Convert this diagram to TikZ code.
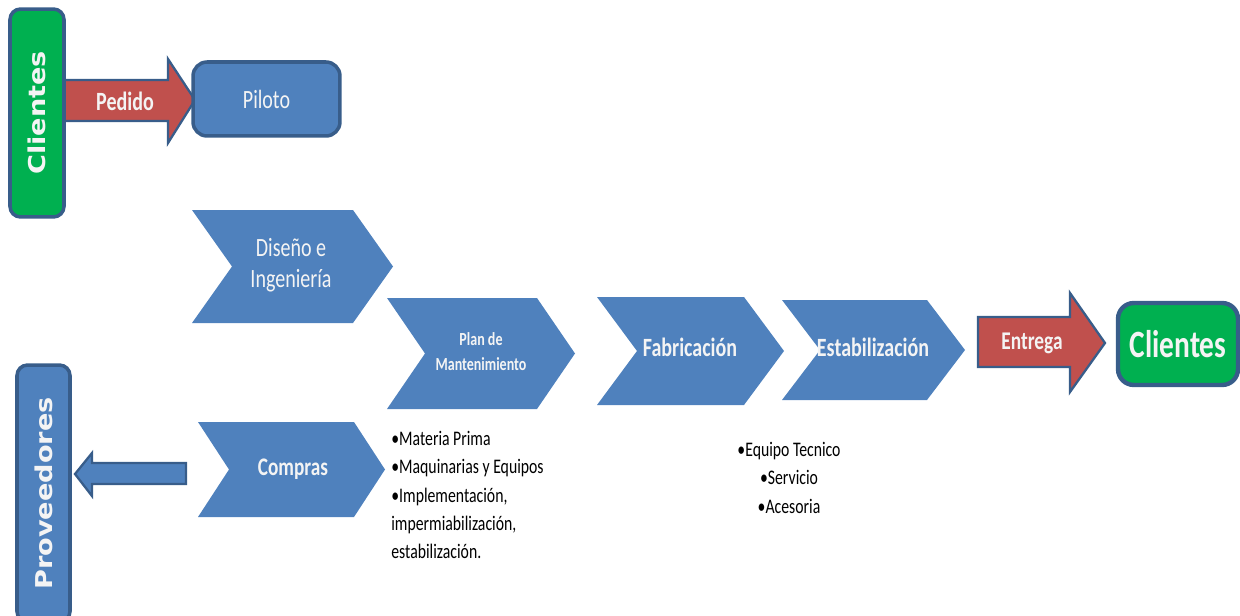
\documentclass[tikz,border=0pt]{standalone}
\usepackage{fontspec}
\setmainfont[FakeStretch=0.76]{Carlito}
\newfontfamily\vertfont[FakeStretch=1.17]{DejaVu Sans}
\usepackage{tikz}
\usetikzlibrary{positioning}

\definecolor{azul}{HTML}{4F81BD}
\definecolor{azulosc}{HTML}{385D8A}
\definecolor{rojo}{HTML}{C0504D}
\definecolor{verde}{HTML}{00B050}
\definecolor{blanco}{HTML}{F4F4F4}

\tikzset{
  caja/.style={draw=azulosc, line width=2pt, rounded corners=6pt, text=blanco, inner sep=0pt},
  flecha/.style={draw=azulosc, line width=1.3pt, line join=miter},
  rotulo/.style={text=blanco, inner sep=0pt, align=center},
  lista/.style={text=black, inner sep=0pt, font=\fontsize{11.8}{16.1}\selectfont}
}

\begin{document}
\begin{tikzpicture}[x=0.02cm,y=-0.02cm]
\useasboundingbox (0,0) rectangle (1240,615);

\foreach \l/\t/\b/\r/\d in {192/210/323/393/40, 387/298/409/575/38, 198/422/517/385/31, 597/297/405/784/40, 782/300/400/965/38}
  \fill[azul] (\l,\t) -- ({\r-\d},\t) -- (\r,{(\t+\b)/2}) -- ({\r-\d},\b) -- (\l,\b) -- ({\l+\d},{(\t+\b)/2}) -- cycle;

\draw[flecha, fill=rojo] (60,80) -- (168,80) -- (168,59) -- (195,100) -- (168,143) -- (168,121) -- (60,121) -- cycle;
\draw[flecha, fill=rojo] (978,317) -- (1070,317) -- (1070,293) -- (1105,343) -- (1070,392) -- (1070,367) -- (978,367) -- cycle;
\draw[flecha, fill=azul] (186,463) -- (92,463) -- (92,453) -- (75,474) -- (92,496) -- (92,484) -- (186,484) -- cycle;

\node (clientesA) [caja, fill=verde, rotate=90, minimum width=4.16cm, minimum height=1.08cm,
  font=\vertfont\bfseries\fontsize{13.2}{15}\selectfont] at (37,113) {Clientes};
\node (proveedores) [caja, fill=azul, rotate=90, minimum width=5.14cm, minimum height=1.06cm,
  font=\vertfont\bfseries\fontsize{13.2}{15}\selectfont] at (43.5,493.5) {Proveedores};
\node (piloto) [caja, fill=azul, rounded corners=8pt, minimum width=2.94cm, minimum height=1.48cm,
  font=\fontsize{15}{18}\selectfont] at (266.5,99) {Piloto};
\node (clientesB) [caja, fill=verde, line width=2.5pt, rounded corners=9pt, minimum width=2.4cm, minimum height=1.64cm,
  font=\bfseries\fontsize{22}{26}\selectfont] at (1178,344) {Clientes};

\node (pedido) [rotulo, font=\bfseries\fontsize{15}{18}\selectfont] at (125,101) {Pedido};
\node (entrega) [rotulo, font=\bfseries\fontsize{14.5}{18}\selectfont] at (1032,343) {Entrega};
\node (diseno) [rotulo, font=\fontsize{15}{17.6}\selectfont] at (291,265) {Diseño e\\Ingeniería};
\node (plan) [rotulo, font=\bfseries\fontsize{10.5}{14.2}\selectfont] at (481,352) {Plan de\\Mantenimiento};
\node (compras) [rotulo, font=\bfseries\fontsize{14.4}{18}\selectfont] at (293,469) {Compras};
\node (fabricacion) [rotulo, font=\bfseries\fontsize{15}{18}\selectfont] at (690,347) {Fabricación};
\node (estabilizacion) [rotulo, font=\bfseries\fontsize{15}{18}\selectfont] at (873,347) {Estabilización};

\node (insumos) [lista, align=left, anchor=north west] at (391,431)
  {•Materia Prima\\•Maquinarias y Equipos\\•Implementación,\\impermiabilización,\\estabilización.};
\node (servicios) [lista, align=center, anchor=north] at (789,442)
  {•Equipo Tecnico\\•Servicio\\•Acesoria};
\end{tikzpicture}
\end{document}
